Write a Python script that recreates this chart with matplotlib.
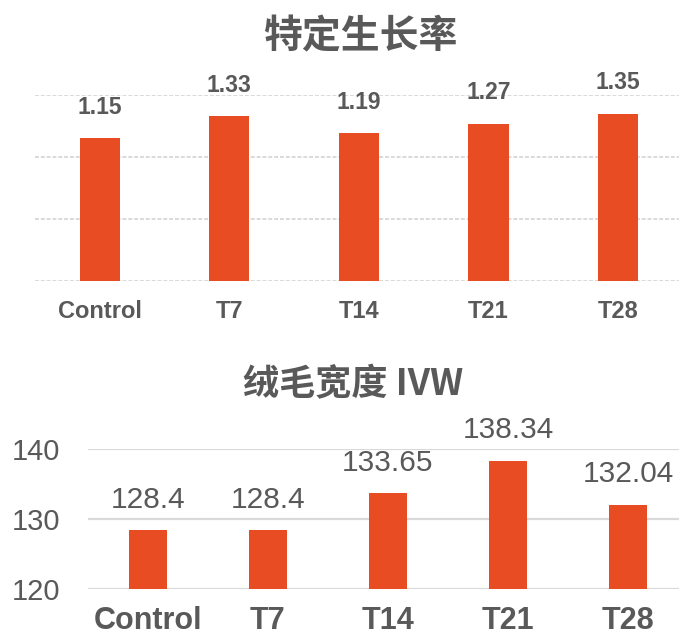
import matplotlib.pyplot as plt

groups = ['Control', 'T7', 'T14', 'T21', 'T28']
sgr = [1.15, 1.33, 1.19, 1.27, 1.35]
ivw = [128.4, 128.4, 133.65, 138.34, 132.04]

bar_color = '#E84C22'
text_color = '#595959'
grid_color = '#D9D9D9'

plt.rcParams['font.family'] = ['Liberation Sans', 'Noto Sans CJK SC', 'DejaVu Sans']

fig = plt.figure(figsize=(6.79, 6.37), dpi=100)
x = range(len(groups))

# top: specific growth rate
ax1 = fig.add_axes([35 / 679, 1 - 281 / 637, 1 - 35 / 679, (281 - 95) / 637])
ax1.bar(x, sgr, width=0.31, color=bar_color, zorder=3)
ax1.set_ylim(0, 1.5)
ax1.set_xlim(-0.5, 4.47)
ax1.set_yticks([0, 0.5, 1.0, 1.5])
ax1.set_yticklabels([])
ax1.tick_params(axis='y', length=0)
ax1.tick_params(axis='x', length=0, pad=14)
ax1.set_xticks(list(x))
ax1.set_xticklabels(groups, fontsize=17, fontweight='bold', color=text_color)
ax1.grid(axis='y', color=grid_color, linewidth=1.4, linestyle=(0, (2, 1)), zorder=0)
for s in ax1.spines.values():
    s.set_visible(False)
for i, v in enumerate(sgr):
    ax1.annotate(f'{v:.2f}', (i, v), xytext=(0, 14), textcoords='offset points',
                 ha='center', va='bottom', fontsize=16.5, fontweight='bold',
                 color=text_color, annotation_clip=False)
fig.text(0.53, 1 - 37 / 637, '特定生长率', ha='center', va='center',
         fontsize=28, fontweight='bold', color=text_color, family=['Noto Sans CJK SC'])

# bottom: villus width
ax2 = fig.add_axes([88 / 679, 1 - 589 / 637, 1 - 88 / 679, (589 - 449) / 637])
ax2.bar(x, ivw, width=0.31, color=bar_color, zorder=3)
ax2.set_ylim(120, 140)
ax2.set_xlim(-0.5, 4.425)
ax2.set_yticks([120, 130, 140])
ax2.set_yticklabels(['120', '130', '140'], fontsize=21, color=text_color)
ax2.tick_params(axis='y', length=0, pad=20)
ax2.tick_params(axis='x', length=0, pad=12)
ax2.set_xticks(list(x))
ax2.set_xticklabels(groups, fontsize=22, fontweight='bold', color=text_color)
ax2.grid(axis='y', color=grid_color, linewidth=1.6, zorder=0)
for s in ax2.spines.values():
    s.set_visible(False)
for i, v in enumerate(ivw):
    ax2.annotate(f'{v:g}', (i, v), xytext=(0, 12), textcoords='offset points',
                 ha='center', va='bottom', fontsize=21.5, color=text_color,
                 annotation_clip=False)
fig.text(0.52, 1 - 385 / 637, '绒毛宽度 IVW', ha='center', va='center',
         fontsize=26, fontweight='bold', color=text_color,
         family=['Noto Sans CJK SC'])

fig.savefig('out.png', dpi=100)
